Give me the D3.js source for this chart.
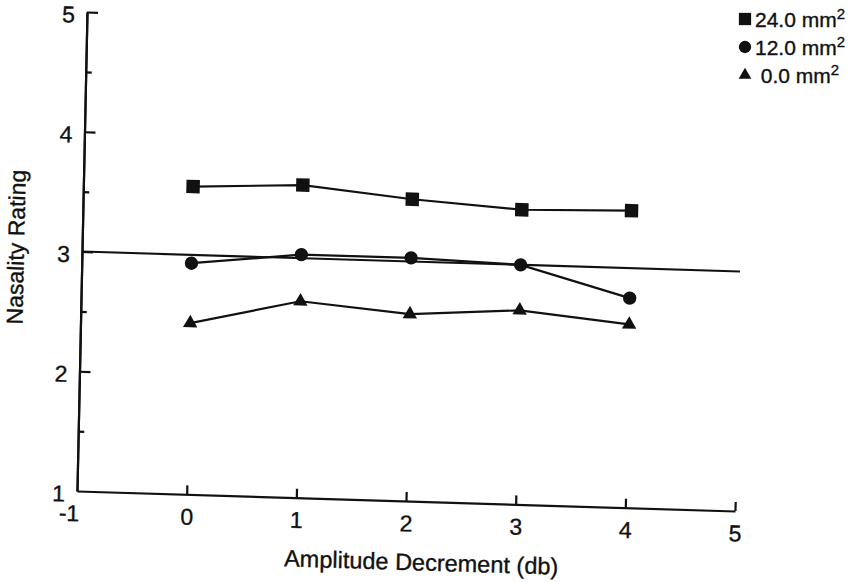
<!DOCTYPE html>
<html>
<head>
<meta charset="utf-8">
<script src="https://cdn.jsdelivr.net/npm/d3@7"></script>
<style>
    body { margin: 0; background: #fff; }
    text { font-family: "Liberation Sans", Arial, Helvetica, sans-serif; fill: #111; stroke: #111; stroke-width: 0.35px; }
</style>
</head>
<body>
<div class="chart"></div>
<script>
// data
var decrements = [0, 1, 2, 3, 4];
var area24 = [3.57, 3.61, 3.52, 3.46, 3.48];
var area12 = [2.93, 3.03, 3.03, 3.00, 2.75];
var area0 = [2.43, 2.64, 2.56, 2.62, 2.53];
var legendLabels = ["24.0 mm", "12.0 mm", " 0.0 mm"];
var fitX = [-1, 5];
var fitY = [3.0, 3.0];
var xTicks = [-1, 0, 1, 2, 3, 4, 5];
var yTicks = [1, 2, 3, 4, 5];
var yMinorTicks = [1.5, 2.5, 3.5, 4.5];

var svgWidth = 855,
    svgHeight = 582,
    width = 658,
    height = 479;

var svg = d3.select(".chart")
    .append("svg")
    .attr("width", svgWidth)
    .attr("height", svgHeight);

// the scan is a little tilted, so the plot frame gets a small skew
var chart = svg.append("g")
    .attr("transform", "matrix(1,0.0304,-0.0209,1,87,12)");

var x = d3.scaleLinear().domain([-1, 5]).range([0, width]);
var y = d3.scaleLinear().domain([1, 5]).range([height, 0]);

var xAxis = d3.axisBottom(x)
    .tickValues(xTicks)
    .tickSizeInner(-9)
    .tickSizeOuter(0)
    .tickPadding(14)
    .tickFormat(function(d) { return String(d); });

var yAxis = d3.axisLeft(y)
    .tickValues(yTicks)
    .tickSizeInner(-11)
    .tickSizeOuter(0)
    .tickPadding(12)
    .tickFormat(function(d) { return String(d); });

var yMinor = d3.axisLeft(y)
    .tickValues(yMinorTicks)
    .tickSizeInner(-6)
    .tickSizeOuter(0)
    .tickFormat("");

var gx = chart.append("g")
    .attr("transform", "translate(0," + height + ")")
    .call(xAxis);

var gy = chart.append("g").call(yAxis);
var gm = chart.append("g").call(yMinor);

[gx, gy, gm].forEach(function(g) {
    g.selectAll("path, line").attr("stroke", "#111").attr("stroke-width", 2.2);
    g.selectAll("text").attr("font-size", 23).attr("fill", "#111");
});
// y labels sit a touch below their ticks in the scan
gy.selectAll("text").attr("dy", "0.46em");
gx.selectAll(".tick").filter(function(d) { return d === -1; }).select("line").remove();
gx.selectAll(".tick").filter(function(d) { return d === -1; }).select("text").attr("dx", -8);
gy.selectAll(".tick").filter(function(d) { return d === 1; }).select("line").remove();

chart.append("text")
    .attr("x", x(2.15))
    .attr("y", height + 69)
    .attr("text-anchor", "middle")
    .attr("font-size", 23.5)
    .text("Amplitude Decrement (db)");

chart.append("text")
    .attr("transform", "translate(-66," + y(3.02) + ") rotate(-90)")
    .attr("text-anchor", "middle")
    .attr("dy", "0.35em")
    .attr("font-size", 23)
    .text("Nasality Rating");

// fitted line
var fit = fitX.map(function(d, i) { return { x: d, y: fitY[i] }; });
var line = d3.line()
    .x(function(d) { return x(d.x); })
    .y(function(d) { return y(d.y); });

chart.append("path")
    .datum(fit)
    .attr("fill", "none")
    .attr("stroke", "#111")
    .attr("stroke-width", 2.2)
    .attr("d", line);

var series = [
    { values: area24, symbol: d3.symbolSquare, size: 180 },
    { values: area12, symbol: d3.symbolCircle, size: 140 },
    { values: area0, symbol: d3.symbolTriangle, size: 90 }
];

series.forEach(function(s) {
    var pts = decrements.map(function(d, i) { return { x: d, y: s.values[i] }; });
    chart.append("path")
        .datum(pts)
        .attr("fill", "none")
        .attr("stroke", "#111")
        .attr("stroke-width", 2.2)
        .attr("d", line);
    chart.selectAll(null)
        .data(pts)
        .enter()
        .append("path")
        .attr("transform", function(d) { return "translate(" + x(d.x) + "," + y(d.y) + ")"; })
        .attr("d", d3.symbol().type(s.symbol).size(s.size))
        .attr("fill", "#111");
});

// legend (top right)
var legend = svg.append("g").attr("transform", "translate(745,19)");
var legendSymbols = [
    d3.symbol().type(d3.symbolSquare).size(150),
    d3.symbol().type(d3.symbolCircle).size(120),
    d3.symbol().type(d3.symbolTriangle).size(70)
];

legendLabels.forEach(function(label, i) {
    var row = legend.append("g").attr("transform", "translate(0," + (i * 28) + ")");
    row.append("path").attr("d", legendSymbols[i]).attr("fill", "#111");
    var t = row.append("text")
        .attr("x", 10)
        .attr("dy", "0.36em")
        .attr("font-size", 21)
        .attr("xml:space", "preserve")
        .style("white-space", "pre")
        .text(label);
    t.append("tspan")
        .attr("dy", -8)
        .attr("font-size", 15)
        .text("2");
});
</script>
</body>
</html>
